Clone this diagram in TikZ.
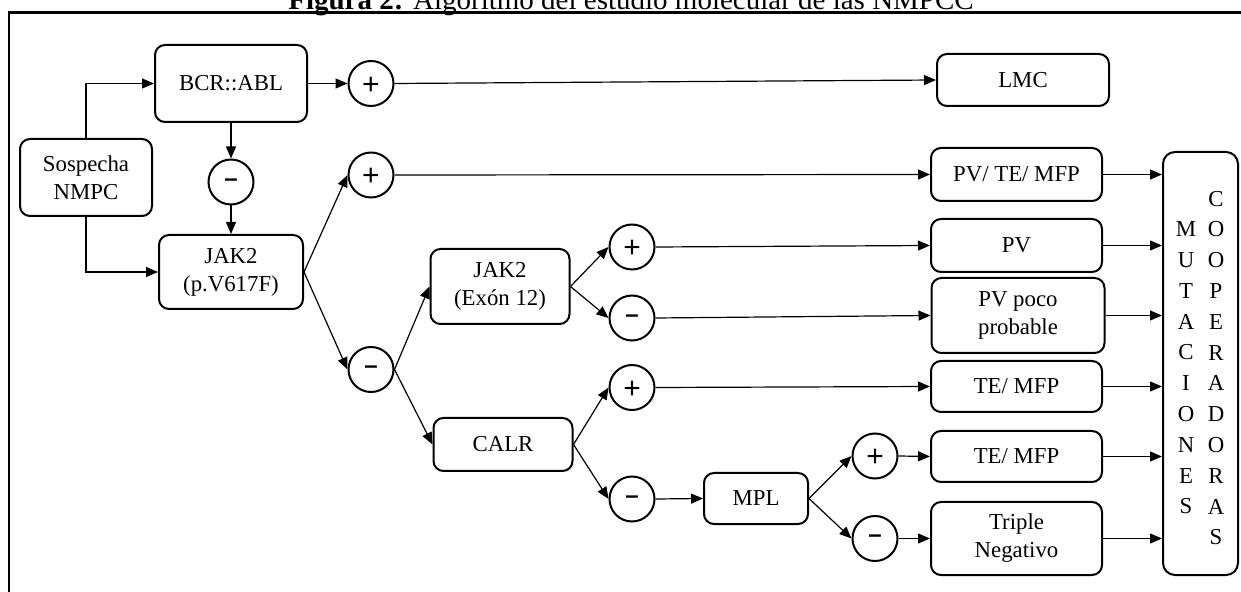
\documentclass[tikz,border=0pt]{standalone}
\usepackage{fontspec}
\setmainfont{Liberation Serif}
\newfontfamily\signfont{Liberation Sans}
\usetikzlibrary{arrows.meta}
\begin{document}
\begin{tikzpicture}[x=0.5pt,y=-0.5pt,
  box/.style={draw, line width=1pt, rounded corners=5pt, align=center, inner sep=0pt,
    font=\fontsize{11.4pt}{14pt}\selectfont},
  signp/.style={draw, circle, line width=1pt, minimum size=22.5pt, inner sep=0pt,
    text height=10.6pt, text depth=0pt, font=\signfont\fontsize{15pt}{15pt}\selectfont},
  signm/.style={draw, circle, line width=1pt, minimum size=22.5pt, inner sep=0pt,
    text height=4.2pt, text depth=0pt, font=\signfont\bfseries\fontsize{12pt}{12pt}\selectfont},
  conn/.style={line width=0.6pt, -{Triangle[length=6pt,width=5pt]}},
  col/.style={align=center, inner sep=0pt, font=\fontsize{11.4pt}{15.4pt}\selectfont},
  frame/.style={line width=1.3pt}]
\useasboundingbox (0,0) rectangle (1241,592);

% title (top cut off by the page edge)
\node[anchor=base, inner sep=0pt, font=\fontsize{14.5pt}{16pt}\selectfont] (title) at (631,9.5)
  {\textbf{Figura 2:} Algoritmo del estudio molecular de las NMPCC};

% frame
\draw[frame] (9,600) -- (9,12.5) -- (1250,12.5);

% boxes
\node[box, minimum width=66pt, minimum height=38.5pt] (sosp) at (86,177.5) {Sospecha\\NMPC};
\node[box, minimum width=76pt, minimum height=38.5pt] (bcr) at (231,83.5) {BCR::ABL};
\node[box, minimum width=72pt, minimum height=37pt] (jakv) at (231,272) {JAK2\\(p.V617F)};
\node[box, minimum width=69.5pt, minimum height=37.5pt] (ex12) at (500,286.5) {JAK2\\(Exón 12)};
\node[box, minimum width=69.5pt, minimum height=26.5pt] (calr) at (503,444.5) {CALR};
\node[box, minimum width=52pt, minimum height=25.5pt] (mpl) at (756,498.5) {MPL};
\node[box, minimum width=86pt, minimum height=26pt] (lmc) at (1023,80) {LMC};
\node[box, minimum width=85.5pt, minimum height=26.5pt] (pvtm) at (1016.5,174.5) {PV/ TE/ MFP};
\node[box, minimum width=85.5pt, minimum height=26.5pt] (pv) at (1016.5,245.5) {PV};
\node[box, minimum width=86.5pt, minimum height=37.5pt] (pvpp) at (1018,315.5) {PV poco\\probable};
\node[box, minimum width=85.5pt, minimum height=25.5pt] (tm1) at (1016.5,386.5) {TE/ MFP};
\node[box, minimum width=85.5pt, minimum height=25.5pt] (tm2) at (1016.5,456.5) {TE/ MFP};
\node[box, minimum width=85.5pt, minimum height=36.5pt] (trip) at (1016.5,538.5) {Triple\\Negativo};
\node[box, rounded corners=6pt, minimum width=37.5pt, minimum height=211.5pt] (mut) at (1200.5,363.5) {};
\node[col] (mutl) at (1186,368) {M\\U\\T\\A\\C\\I\\O\\N\\E\\S};
\node[col] (mutr) at (1216,368) {C\\O\\O\\P\\E\\R\\A\\D\\O\\R\\A\\S};

% sign circles
\node[signp] (p1) at (371,83.5) {+};
\node[signm] (m1) at (231,182) {–};
\node[signp] (p2) at (371,175) {+};
\node[signm] (m2) at (371,369.5) {–};
\node[signp] (e12p) at (632,247) {+};
\node[signm] (e12m) at (632,318) {–};
\node[signp] (cp) at (632,387.5) {+};
\node[signm] (cm) at (632,499) {–};
\node[signp] (mp) at (875,456) {+};
\node[signm] (mm) at (875,538.5) {–};

% connectors
\draw[conn] (sosp.north) |- (bcr.west);
\draw[conn] (sosp.south) |- (jakv.west);
\draw[conn] (bcr.south) -- (m1.north);
\draw[conn] (m1.south) -- (jakv.north);
\draw[conn] (bcr.east) -- (p1.west);
\draw[conn] (p1.east) -- (lmc.west);
\draw[conn] (jakv.east) -- (p2.west);
\draw[conn] (jakv.east) -- (m2.west);
\draw[conn] (p2.east) -- (pvtm.west);
\draw[conn] (m2.east) -- (ex12.west);
\draw[conn] (m2.east) -- (calr.west);
\draw[conn] (ex12.east) -- (e12p.west);
\draw[conn] (ex12.east) -- (e12m.west);
\draw[conn] (e12p.east) -- (pv.west);
\draw[conn] (e12m.east) -- (pvpp.west);
\draw[conn] (calr.east) -- (cp.west);
\draw[conn] (calr.east) -- (cm.west);
\draw[conn] (cp.east) -- (tm1.west);
\draw[conn] (cm.east) -- (mpl.west);
\draw[conn] (mpl.east) -- (mp.west);
\draw[conn] (mpl.east) -- (mm.west);
\draw[conn] (mp.east) -- (tm2.west);
\draw[conn] (mm.east) -- (trip.west);
\draw[conn] (pvtm.east) -- (pvtm.east -| mut.west);
\draw[conn] (pv.east) -- (pv.east -| mut.west);
\draw[conn] (pvpp.east) -- (pvpp.east -| mut.west);
\draw[conn] (tm1.east) -- (tm1.east -| mut.west);
\draw[conn] (tm2.east) -- (tm2.east -| mut.west);
\draw[conn] (trip.east) -- (trip.east -| mut.west);
\end{tikzpicture}
\end{document}
